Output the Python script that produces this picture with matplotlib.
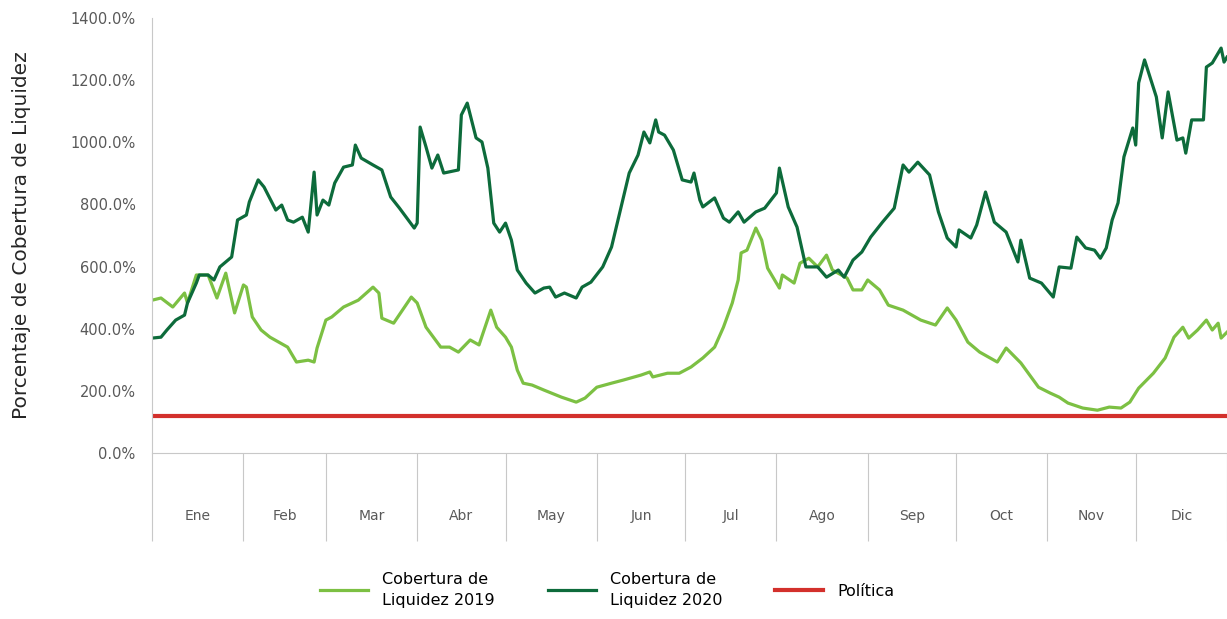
import matplotlib
matplotlib.use("Agg")
import matplotlib.pyplot as plt
from matplotlib.ticker import FuncFormatter


# day of year / coverage %
dias_2019 = [0, 3, 7, 11, 12, 15, 19, 22, 25, 28, 31, 32, 34, 37, 40, 43, 46, 49, 53, 55,
             56, 59, 61, 65, 70, 75, 77, 78, 82, 85, 88, 90, 93, 98, 101, 104, 108, 111, 115, 117,
             120, 122, 124, 126, 129, 133, 139, 144, 147, 151, 156, 160, 166, 169, 170, 175, 179, 183, 187, 191,
             194, 197, 199, 200, 202, 205, 207, 209, 213, 214, 218, 220, 223, 226, 229, 231, 236, 238, 241, 243,
             247, 250, 255, 261, 266, 270, 273, 277, 281, 287, 290, 295, 301, 305, 308, 311, 316, 321, 325, 329,
             332, 335, 340, 344, 347, 350, 352, 355, 358, 360, 362, 363, 365]
cob_2019 = [492, 499, 470, 515, 483, 573, 573, 499, 579, 451, 541, 534, 438, 396, 373, 357, 341, 293, 299, 293,
            338, 428, 438, 470, 492, 534, 515, 434, 418, 460, 502, 483, 405, 341, 341, 325, 364, 348, 460, 405,
            373, 341, 267, 225, 219, 203, 180, 164, 177, 212, 225, 235, 251, 261, 245, 257, 257, 277, 306, 341,
            405, 483, 557, 644, 653, 724, 685, 595, 531, 573, 547, 611, 627, 599, 637, 589, 563, 525, 525, 557,
            525, 476, 460, 428, 412, 467, 428, 357, 325, 293, 338, 290, 212, 193, 180, 161, 145, 138, 148, 145,
            164, 209, 257, 306, 373, 405, 370, 396, 428, 396, 418, 370, 389]

dias_2020 = [0, 3, 5, 8, 11, 12, 15, 16, 19, 21, 23, 27, 29, 32, 33, 36, 38, 42, 44, 46,
             48, 51, 53, 55, 56, 58, 60, 62, 65, 68, 69, 71, 75, 78, 81, 84, 89, 90, 91, 93,
             95, 97, 99, 104, 105, 107, 110, 112, 114, 116, 118, 120, 122, 124, 127, 130, 133, 135, 137, 140,
             144, 146, 149, 153, 156, 159, 162, 165, 167, 169, 171, 172, 174, 177, 180, 183, 184, 186, 187, 191,
             194, 196, 199, 201, 205, 208, 212, 213, 216, 219, 222, 226, 229, 233, 235, 238, 241, 244, 248, 252,
             255, 257, 260, 264, 267, 270, 273, 274, 278, 280, 283, 286, 290, 294, 295, 298, 302, 306, 308, 312,
             314, 317, 320, 322, 324, 326, 328, 330, 333, 334, 335, 337, 341, 343, 345, 348, 350, 351, 353, 357,
             358, 360, 363, 364, 365]
cob_2020 = [370, 373, 396, 428, 444, 483, 547, 573, 573, 557, 599, 631, 750, 766, 808, 879, 856, 782, 798, 750,
            743, 759, 711, 904, 766, 814, 798, 869, 920, 927, 991, 949, 927, 911, 824, 788, 724, 740, 1049, 985,
            917, 959, 901, 911, 1088, 1126, 1014, 1001, 917, 740, 711, 740, 685, 589, 547, 515, 531, 534, 502, 515,
            499, 534, 550, 599, 663, 782, 901, 959, 1033, 998, 1072, 1033, 1023, 975, 879, 872, 901, 814, 792, 821,
            756, 743, 776, 743, 776, 788, 837, 917, 792, 727, 599, 599, 566, 589, 566, 621, 647, 695, 743, 788,
            927, 904, 936, 895, 776, 692, 663, 718, 692, 734, 840, 743, 711, 615, 685, 563, 547, 502, 599, 595,
            695, 660, 653, 627, 660, 750, 805, 953, 1046, 991, 1191, 1265, 1146, 1014, 1162, 1007, 1014, 965, 1072, 1072,
            1242, 1255, 1303, 1258, 1274]

politica = 120

meses = ["Ene", "Feb", "Mar", "Abr", "May", "Jun", "Jul", "Ago", "Sep", "Oct", "Nov", "Dic"]
limites_mes = [0, 31, 59, 90, 120, 151, 181, 212, 243, 273, 304, 334, 365]

verde_claro = "#7cc043"
verde_oscuro = "#0d6b3b"
rojo = "#d3302c"
gris = "#c8c8c8"

fig = plt.figure(figsize=(12.27, 6.19), dpi=100)
ax = fig.add_axes([0.124, 0.268, 0.876, 0.703])

ax.plot(dias_2019, cob_2019, color=verde_claro, lw=2.3, label="Cobertura de\nLiquidez 2019")
ax.plot(dias_2020, cob_2020, color=verde_oscuro, lw=2.3, label="Cobertura de\nLiquidez 2020")
ax.axhline(politica, color=rojo, lw=3, label="Política")

ax.set_xlim(0, 365)
ax.set_ylim(0, 1400)
ax.set_yticks(range(0, 1401, 200))
ax.yaxis.set_major_formatter(FuncFormatter(lambda v, p: f"{v:.1f}%"))
ax.tick_params(axis="y", length=0, pad=12, labelsize=10.5, labelcolor="#595959")
ax.set_ylabel("Porcentaje de Cobertura de Liquidez", fontsize=14.5, color="#262626", labelpad=28)

# multi-level style month axis
centros = [(limites_mes[i] + limites_mes[i + 1]) / 2 for i in range(12)]
ax.set_xticks(limites_mes)
ax.set_xticklabels([])
ax.set_xticks(centros, minor=True)
ax.set_xticklabels(meses, minor=True)
ax.tick_params(axis="x", which="major", length=63, width=0.8, color=gris, direction="out")
ax.tick_params(axis="x", which="minor", length=0, pad=40, labelsize=10, labelcolor="#595959")

for s in ["top", "right"]:
    ax.spines[s].set_visible(False)
ax.spines["left"].set_color(gris)
ax.spines["bottom"].set_color(gris)

leg = fig.legend(loc="center", bbox_to_anchor=(0.495, 0.047), ncol=3, frameon=False,
                 fontsize=11.5, handlelength=3.0, columnspacing=3.3, handletextpad=0.9)
for t in leg.get_texts():
    t.set_linespacing(1.45)

plt.savefig("out.png", dpi=100)
